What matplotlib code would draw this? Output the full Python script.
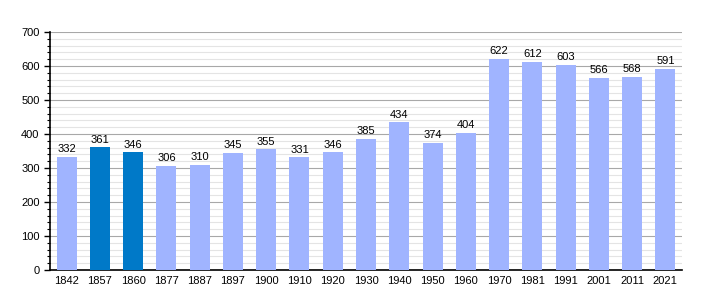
import matplotlib.pyplot as plt
from matplotlib.ticker import MultipleLocator

years = ['1842', '1857', '1860', '1877', '1887', '1897', '1900', '1910', '1920', '1930',
         '1940', '1950', '1960', '1970', '1981', '1991', '2001', '2011', '2021']
population = [332, 361, 346, 306, 310, 345, 355, 331, 346, 385,
              434, 374, 404, 622, 612, 603, 566, 568, 591]
highlight = ['1857', '1860']

plt.rcParams['font.family'] = ['Liberation Sans', 'DejaVu Sans']

colors = ['#0079c8' if y in highlight else '#a0b4ff' for y in years]

fig = plt.figure(figsize=(7.1, 3), dpi=100)
ax = fig.add_axes([50 / 710, 30 / 300, 632 / 710, 238 / 300])

x = range(len(years))
ax.bar(x, population, width=0.6, color=colors, zorder=3)
for i, v in enumerate(population):
    ax.text(i, v + 8, str(v), ha='center', va='bottom', fontsize=8, zorder=4)

ax.set_xlim(-0.5, len(years) - 0.5)
ax.set_ylim(0, 700)
ax.set_xticks(list(x))
ax.set_xticklabels(years, fontsize=8)
ax.yaxis.set_major_locator(MultipleLocator(100))
ax.yaxis.set_minor_locator(MultipleLocator(20))
ax.tick_params(axis='y', labelsize=8, length=4, width=1)
ax.tick_params(axis='y', which='minor', length=2.5, width=0.8)
ax.tick_params(axis='x', length=0, pad=4)
ax.grid(axis='y', which='major', color='#a8a8a8', linewidth=0.8, zorder=0)
ax.grid(axis='y', which='minor', color='#e4e4e4', linewidth=0.8, zorder=0)

for s in ['top', 'right']:
    ax.spines[s].set_visible(False)
ax.spines['left'].set_linewidth(1.2)
ax.spines['bottom'].set_linewidth(1.2)

fig.savefig('out.png', dpi=100)
